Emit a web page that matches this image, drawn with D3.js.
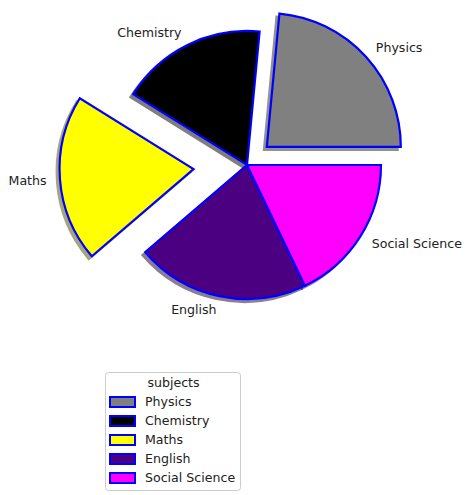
<!DOCTYPE html>
<html>
<head>
<meta charset="utf-8">
<script src="https://cdn.jsdelivr.net/npm/d3@7"></script>
<style>
  html, body { margin: 0; padding: 0; background: #fff; }
  svg { display: block; font-family: "DejaVu Sans", sans-serif; }
</style>
</head>
<body>
<svg id="chart" width="474" height="495"></svg>
<script>
const subjects = ["Physics", "Chemistry", "Maths", "English", "Social Science"];
const marks = [84.6, 63.5, 72.5, 75.0, 64.4];
const explodeFrac = [0.2, 0, 0.4, 0, 0];
const colors = ["#808080", "#000000", "#ffff00", "#4b0082", "#ff00ff"];
const legendTitle = "subjects";

const svg = d3.select("#chart");
const cx = 247, cy = 165, R = 134;
const edge = "#0000ff";
const fs = 12.6;

const pie = d3.pie().sort(null).value(d => d.v)
  .startAngle(Math.PI / 2).endAngle(Math.PI / 2 - 2 * Math.PI);
const data = subjects.map((s, i) => ({ s, v: marks[i], ex: explodeFrac[i], c: colors[i] }));
const arcs = pie(data);
const arc = d3.arc().innerRadius(0).outerRadius(R);

function offset(a, dist) {
  const m = (a.startAngle + a.endAngle) / 2;
  return [Math.sin(m) * dist, -Math.cos(m) * dist];
}

const g = svg.append("g").attr("transform", `translate(${cx},${cy})`);

// shadows
g.selectAll("path.shadow").data(arcs).enter().append("path")
  .attr("class", "shadow")
  .attr("d", arc)
  .attr("transform", d => { const o = offset(d, d.data.ex * R); return `translate(${o[0] - 3},${o[1] + 3})`; })
  .attr("fill", d => { const c = d3.rgb(d.data.c); return d3.rgb(c.r * 0.3, c.g * 0.3, c.b * 0.3); })
  .attr("stroke", d => { const c = d3.rgb(d.data.c); return d3.rgb(c.r * 0.3, c.g * 0.3, c.b * 0.3); })
  .attr("stroke-width", 2)
  .attr("opacity", 0.5);

// wedges
g.selectAll("path.wedge").data(arcs).enter().append("path")
  .attr("class", "wedge")
  .attr("d", arc)
  .attr("transform", d => { const o = offset(d, d.data.ex * R); return `translate(${o[0]},${o[1]})`; })
  .attr("fill", d => d.data.c)
  .attr("stroke", edge)
  .attr("stroke-width", 2.2)
  .attr("stroke-linejoin", "miter");

// labels
g.selectAll("text.lbl").data(arcs).enter().append("text")
  .attr("class", "lbl")
  .each(function (d) {
    const o = offset(d, (1.1 + d.data.ex) * R);
    d3.select(this).attr("x", o[0]).attr("y", o[1])
      .attr("text-anchor", o[0] > 0 ? "start" : "end");
  })
  .attr("dy", "0.35em")
  .attr("font-size", fs)
  .attr("fill", "#222")
  .text(d => d.data.s);

// legend
const lx = 105, ly = 372, lw = 135, lh = 118;
const lg = svg.append("g");
lg.append("rect").attr("x", lx + 0.5).attr("y", ly + 0.5).attr("width", lw).attr("height", lh)
  .attr("rx", 3).attr("fill", "#fff").attr("fill-opacity", 0.8)
  .attr("stroke", "#cccccc").attr("stroke-width", 1);
lg.append("text").attr("x", lx + lw / 2 + 1).attr("y", 383).attr("dy", "0.35em")
  .attr("text-anchor", "middle").attr("font-size", fs).attr("fill", "#222").text(legendTitle);
const rowY = d3.scaleLinear().domain([0, 1]).range([402, 421]);
data.forEach((d, i) => {
  const y = rowY(i);
  lg.append("rect").attr("x", 110).attr("y", y - 5).attr("width", 25).attr("height", 10)
    .attr("fill", d.c).attr("stroke", edge).attr("stroke-width", 2);
  lg.append("text").attr("x", 145).attr("y", y).attr("dy", "0.35em")
    .attr("font-size", fs).attr("fill", "#222").text(d.s);
});
</script>
</body>
</html>
